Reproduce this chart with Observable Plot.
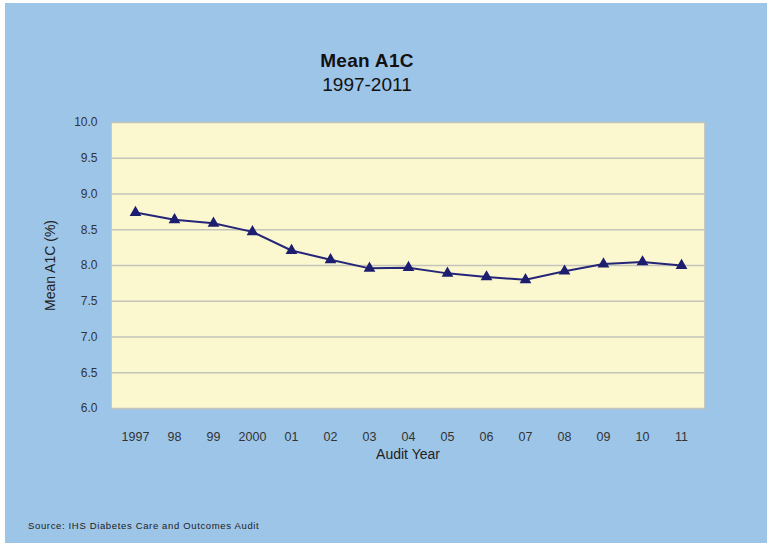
<!DOCTYPE html>
<html>
<head>
<meta charset="utf-8">
<script src="https://cdn.jsdelivr.net/npm/d3@7"></script>
<script src="https://cdn.jsdelivr.net/npm/@observablehq/plot@0.6"></script>
<style>
  html, body { margin: 0; padding: 0; background: #ffffff; }
  #page { position: relative; width: 767px; height: 547px; overflow: hidden; font-family: "Liberation Sans", Arial, sans-serif; }
  #bg { position: absolute; left: 5px; top: 3px; width: 762px; height: 540px; background: #9DC5E8; }
  #title { position: absolute; left: 267px; width: 200px; top: 49px; text-align: center; color: #111; }
  #title .t1 { font-size: 19px; font-weight: bold; line-height: 24px; letter-spacing: 0.3px; }
  #title .t2 { font-size: 19px; line-height: 24px; }
  #chart { position: absolute; left: 0; top: 100px; }
  #caption { position: absolute; left: 28px; top: 520px; font-size: 9.5px; color: #222; letter-spacing: 0.65px; }
</style>
</head>
<body>
<div id="page">
  <div id="bg"></div>
  <div id="title"><div class="t1">Mean A1C</div><div class="t2">1997-2011</div></div>
  <div id="chart"></div>
  <div id="caption">Source: IHS Diabetes Care and Outcomes Audit</div>
</div>
<script>
const years = ["1997","98","99","2000","01","02","03","04","05","06","07","08","09","10","11"];
const meanA1C = [8.74, 8.64, 8.59, 8.47, 8.21, 8.08, 7.96, 7.97, 7.89, 7.84, 7.80, 7.92, 8.02, 8.05, 8.00];
const yTicks = [6.0, 6.5, 7.0, 7.5, 8.0, 8.5, 9.0, 9.5, 10.0];

const data = years.map((y, i) => ({year: y, value: meanA1C[i]}));

const plot = Plot.plot({
  width: 767,
  height: 370,
  marginLeft: 111,
  marginRight: 63,
  marginTop: 22,
  marginBottom: 62,
  style: {background: "transparent", fontFamily: "Liberation Sans, Arial, sans-serif", fontSize: "12px", color: "#333"},
  x: {type: "point", domain: years, padding: 0.5, label: null},
  y: {domain: [6, 10], label: null},
  marks: [
    Plot.frame({fill: "#FBF8CF", stroke: "#C9C9C0"}),
    Plot.gridY(yTicks, {stroke: "#C4C4BC", strokeOpacity: 1, strokeWidth: 1.5}),
    Plot.axisY(yTicks, {tickSize: 0, tickPadding: 14, tickFormat: d3.format(".1f"), fontSize: 12, fill: "#333", label: null}),
    Plot.axisX({tickSize: 0, tickPadding: 24, fontSize: 12.5, fill: "#333", label: null}),
    Plot.text(["Mean A1C (%)"], {frameAnchor: "left", textAnchor: "middle", dx: -61, rotate: -90, fontSize: 14, fill: "#222"}),
    Plot.text(["Audit Year"], {frameAnchor: "bottom", lineAnchor: "middle", dy: 46, fontSize: 14, fill: "#222"}),
    Plot.line(data, {x: "year", y: "value", stroke: "#262678", strokeWidth: 2}),
    Plot.dot(data, {x: "year", y: "value", symbol: "triangle", r: 3.4, fill: "#1E1E70", stroke: "#1E1E70"})
  ]
});
document.getElementById("chart").appendChild(plot);
</script>
</body>
</html>
